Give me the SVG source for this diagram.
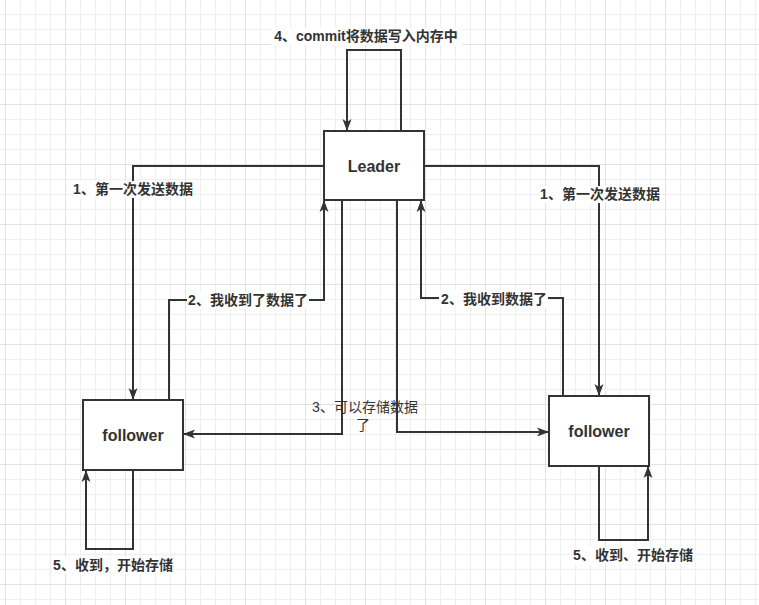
<svg xmlns="http://www.w3.org/2000/svg" width="759" height="605" viewBox="0 0 759 605">
<defs>
<pattern id="minor" patternUnits="userSpaceOnUse" x="5" y="14" width="15" height="15">
<rect x="0" y="0" width="1" height="15" fill="#efefef"/>
<rect x="0" y="0" width="15" height="1" fill="#efefef"/>
</pattern>
<pattern id="major" patternUnits="userSpaceOnUse" x="5" y="44" width="60" height="60">
<rect x="0" y="0" width="1" height="60" fill="#e2e2e2"/>
<rect x="0" y="0" width="60" height="1" fill="#e2e2e2"/>
</pattern>
<marker id="arr" viewBox="0 0 12 10" refX="12" refY="5" markerWidth="12" markerHeight="10" markerUnits="userSpaceOnUse" orient="auto">
<path d="M0,0.5 L12,5 L0,9.5 L3,5 Z" fill="#333333"/>
</marker>
</defs>
<style>
.box{fill:#ffffff;stroke:#333333;stroke-width:2}
.ntext{font-family:"Liberation Sans","Noto Sans CJK SC",sans-serif;font-size:16px;font-weight:bold;fill:#333333;text-anchor:middle}
.edge{fill:none;stroke:#333333;stroke-width:2;marker-end:url(#arr)}
.loop{fill:none;stroke:#333333;stroke-width:2}
.lbl{font-family:"Liberation Sans","Noto Sans CJK SC",sans-serif;font-size:14px;font-weight:bold;fill:#333333;text-anchor:middle}
.lbln{font-family:"Liberation Sans","Noto Sans CJK SC",sans-serif;font-size:14px;fill:#333333;text-anchor:middle}
.bg{fill:#ffffff}
</style>
<rect x="0" y="0" width="759" height="605" fill="#ffffff"/>
<rect x="0" y="0" width="759" height="605" fill="url(#minor)"/>
<rect x="0" y="0" width="759" height="605" fill="url(#major)"/>

<g id="connectors">
<path class="edge" d="M401,131 V50 H347 V131"/>
<path class="edge" d="M324,166 H133 V400"/>
<path class="edge" d="M424,166 H599 V396"/>
<path class="edge" d="M169,400 V300 H324 V200"/>
<path class="edge" d="M563,396 V298 H421 V200"/>
<path class="edge" d="M342,200 V434 H183"/>
<path class="edge" d="M397,200 V432 H549"/>
<path class="edge" d="M133,470 V549 H86 V470"/>
<path class="edge" d="M599,466 V540 H648 V466"/>
</g>

<g id="labels">
<rect class="bg" x="271" y="28" width="191" height="17"/>
<text class="lbl" x="366" y="41">4、commit将数据写入内存中</text>
<rect class="bg" x="73" y="181" width="121" height="17"/>
<text class="lbl" x="133" y="194">1、第一次发送数据</text>
<rect class="bg" x="539" y="186" width="122" height="17"/>
<text class="lbl" x="600" y="199">1、第一次发送数据</text>
<rect class="bg" x="187" y="292" width="122" height="17"/>
<text class="lbl" x="248" y="305">2、我收到了数据了</text>
<rect class="bg" x="439" y="290" width="109" height="17"/>
<text class="lbl" x="494" y="304">2、我收到数据了</text>
<text class="lbln" x="365" y="412">3、可以存储数据</text>
<text class="lbln" x="363" y="430">了</text>
<rect class="bg" x="52" y="557" width="122" height="17"/>
<text class="lbl" x="113" y="570">5、收到，开始存储</text>
<rect class="bg" x="572" y="547" width="122" height="17"/>
<text class="lbl" x="633" y="560">5、收到、开始存储</text>
</g>

<g id="leader">
<rect class="box" x="324" y="131" width="100" height="69"/>
<text class="ntext" x="374" y="172">Leader</text>
</g>
<g id="follower-left">
<rect class="box" x="83" y="400" width="100" height="70"/>
<text class="ntext" x="133" y="441">follower</text>
</g>
<g id="follower-right">
<rect class="box" x="549" y="396" width="100" height="70"/>
<text class="ntext" x="599" y="437">follower</text>
</g>
</svg>
